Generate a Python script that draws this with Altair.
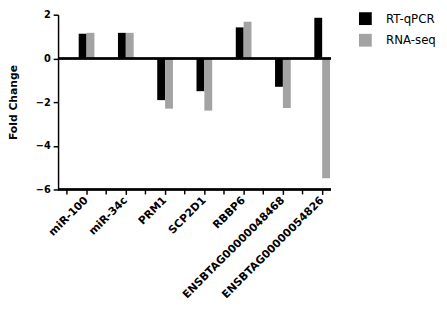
import altair as alt
import pandas as pd

genes = ["miR-100", "miR-34c", "PRM1", "SCP2D1", "RBBP6",
         "ENSBTAG00000048468", "ENSBTAG00000054826"]
rt_qpcr = [1.13, 1.17, -1.91, -1.50, 1.42, -1.30, 1.86]
rna_seq = [1.17, 1.17, -2.30, -2.39, 1.68, -2.27, -5.49]
series = ["RT-qPCR", "RNA-seq"]
y_ticks = [-6, -4, -2, 0, 2]

rows = []
for g, a, b in zip(genes, rt_qpcr, rna_seq):
    rows.append({"gene": g, "series": series[0], "value": a})
    rows.append({"gene": g, "series": series[1], "value": b})
df = pd.DataFrame(rows)
gdf = pd.DataFrame({"gene": genes})

W, H = 278, 178
FONT = "DejaVu Sans"

xscale = alt.Scale(domain=genes, range=[9, 289], paddingInner=0, paddingOuter=0)
xaxis = alt.Axis(title=None, labelAngle=-45, labelAlign="right",
                 labelBaseline="middle", domain=False, tickSize=5,
                 labelFont=FONT, labelFontWeight="bold", labelFontSize=11,
                 labelPadding=4, labelOverlap=False)

bars = alt.Chart(df).mark_bar().encode(
    x=alt.X("gene:N", sort=genes, scale=xscale, axis=xaxis),
    xOffset=alt.XOffset("series:N", sort=series,
                        scale=alt.Scale(domain=series, range=[12, 28],
                                        paddingOuter=0, paddingInner=0)),
    y=alt.Y("value:Q", scale=alt.Scale(domain=[-6, 2], nice=False),
            axis=alt.Axis(values=y_ticks, title="Fold Change", grid=False, tickSize=5,
                          labelFont=FONT, labelFontWeight="bold", labelFontSize=10,
                          titleFont=FONT, titleFontWeight="bold", titleFontSize=11,
                          titlePadding=17, labelPadding=3)),
    color=alt.Color("series:N", sort=series,
                    scale=alt.Scale(domain=series, range=["#000000", "#a3a3a3"]),
                    legend=alt.Legend(title=None, orient="none", legendX=306, legendY=-3,
                                      symbolType="square", symbolSize=170,
                                      symbolStrokeWidth=0, labelFont=FONT,
                                      labelFontSize=12, labelOffset=14, rowPadding=8)),
)

zero = alt.Chart(gdf).mark_rule(color="black", strokeWidth=1.5).encode(
    y=alt.datum(0), x=alt.value(0), x2=alt.value(W))

bottom = alt.Chart(gdf).mark_rule(color="black", strokeWidth=1.5).encode(
    y=alt.value(H), x=alt.value(0), x2=alt.value(W))

btick = alt.Chart(gdf).mark_rule(color="black", strokeWidth=1.5).encode(
    x=alt.X("gene:N", sort=genes, scale=xscale, bandPosition=0, axis=xaxis),
    y=alt.value(H), y2=alt.value(H + 5))

chart = alt.layer(bars, zero, bottom, btick).properties(
    width=W, height=H,
    autosize=alt.AutoSizeParams(type="none"),
    padding={"left": 51, "top": 4, "right": 110, "bottom": 124},
).configure_view(stroke=None).configure_axis(
    domainColor="black", domainWidth=1.5, tickColor="black", tickWidth=1.5,
    labelColor="black", titleColor="black"
)

chart.save("out.html", embed_options={"renderer": "svg", "actions": False})
